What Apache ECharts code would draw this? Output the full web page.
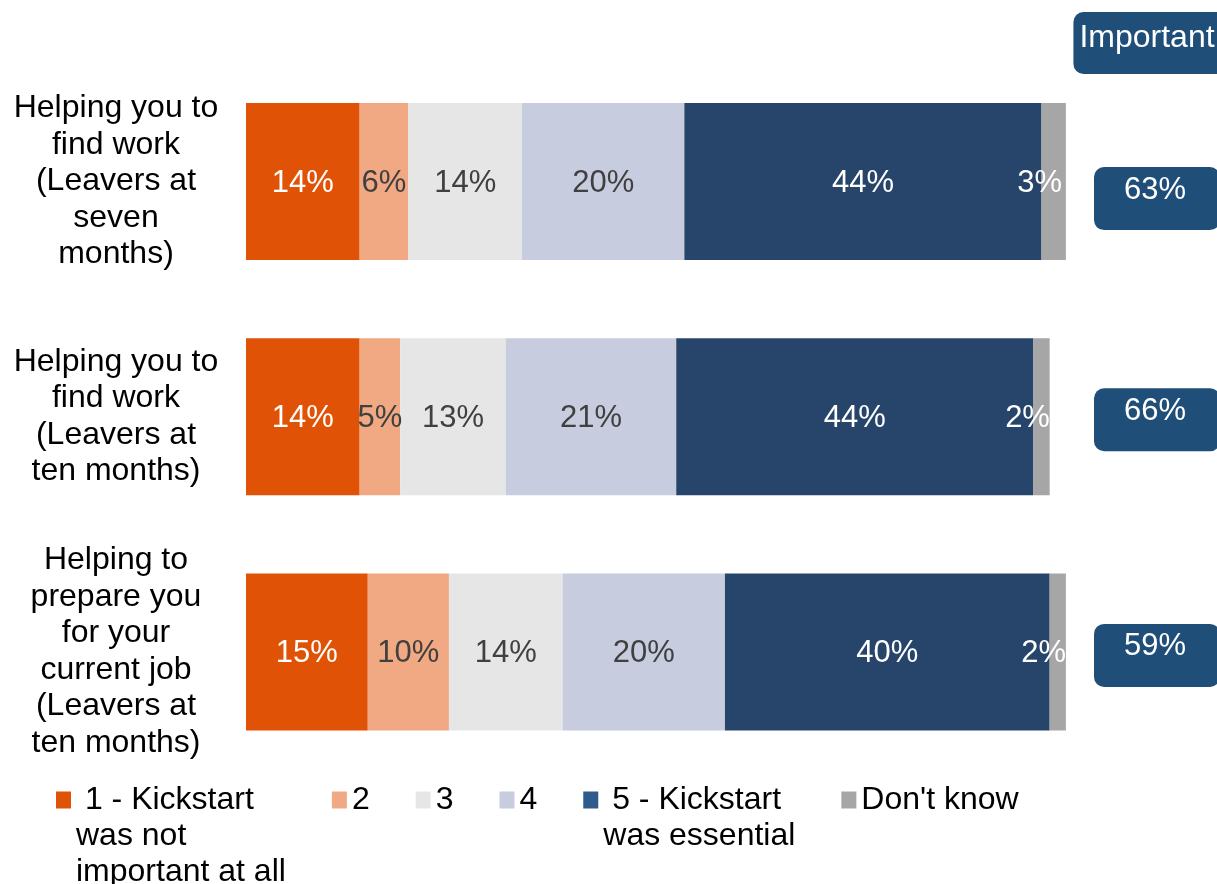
<!DOCTYPE html>
<html>
<head>
<meta charset="utf-8">
<script src="https://cdn.jsdelivr.net/npm/echarts@6/dist/echarts.min.js"></script>
<style>
  html, body { margin: 0; padding: 0; background: #ffffff; }
  #chart { width: 1217px; height: 884px; }
</style>
</head>
<body>
<div id="chart"></div>
<script>
// Ways Kickstart helped, rated 1-5 (share of respondents, %)
const categories = [
  'Helping you to\nfind work\n(Leavers at\nseven\nmonths)',
  'Helping you to\nfind work\n(Leavers at\nten months)',
  'Helping to\nprepare you\nfor your\ncurrent job\n(Leavers at\nten months)'
];
const score1 = [14, 14, 15];
const score2 = [6, 5, 10];
const score3 = [14, 13, 14];
const score4 = [20, 21, 20];
const score5 = [44, 44, 40];
const dontKnow = [3, 2, 2];
// Combined "important" share (4 + 5) shown in the right-hand boxes
const importantShare = [63, 66, 59];
const importantHeader = 'Important';

const seriesNames = [
  ' 1 - Kickstart\nwas not\nimportant at all',
  '2', '3', '4',
  ' 5 - Kickstart\nwas essential',
  "Don't know"
];
const seriesValues = [score1, score2, score3, score4, score5, dontKnow];
const seriesColors = ['#E05206', '#F0A982', '#E6E6E6', '#C8CCDF', '#27446B', '#A6A6A6'];
const labelColors = ['#ffffff', '#404040', '#404040', '#404040', '#ffffff', '#ffffff'];
const legendColors = ['#E05206', '#F0A982', '#E6E6E6', '#C8CCDF', '#2E5A8C', '#A6A6A6'];

const FONT = '"Liberation Sans", Arial, Helvetica, sans-serif';
const BOX = '#1F4E79';
// rounded rectangle outline, 126 x 63 with 10px corners
const BOX_PATH = 'path://M10,0H116A10,10 0 0 1 126,10V53A10,10 0 0 1 116,63H10A10,10 0 0 1 0,53V10A10,10 0 0 1 10,0Z';

const barSeries = seriesNames.map((name, i) => ({
  name: name,
  type: 'bar',
  stack: 'total',
  xAxisIndex: 0,
  yAxisIndex: 0,
  barWidth: 157,
  data: seriesValues[i],
  itemStyle: { color: seriesColors[i] },
  label: {
    show: true,
    position: 'inside',
    offset: i === 5 ? [-14, 2] : [0, 2],
    formatter: '{c}%',
    color: labelColors[i],
    fontFamily: FONT,
    fontSize: 31
  },
  emphasis: { disabled: true }
}));

// right-hand rounded boxes with the combined share
const boxNudgeY = [17, 3, 3.5];
const importantSeries = {
  type: 'scatter',
  xAxisIndex: 1,
  yAxisIndex: 1,
  symbol: BOX_PATH,
  symbolSize: [126, 63],
  itemStyle: { color: BOX, opacity: 1 },
  data: importantShare.map((v, i) => ({
    value: [importantHeader, i, v],
    symbolOffset: [5, boxNudgeY[i]]
  })),
  label: {
    show: true,
    position: 'inside',
    offset: [-2, -8.5],
    formatter: p => p.value[2] + '%',
    color: '#ffffff',
    fontFamily: FONT,
    fontSize: 31
  },
  emphasis: { disabled: true },
  silent: true
};

const chart = echarts.init(document.getElementById('chart'), null, { renderer: 'canvas' });
chart.setOption({
  animation: false,
  backgroundColor: '#ffffff',
  textStyle: { fontFamily: FONT },
  grid: [
    { left: 246, right: 143, top: 64, bottom: 114.5, outerBoundsMode: 'none' },
    { left: 1079, width: 146, top: 64, bottom: 114.5, outerBoundsMode: 'none' }
  ],
  xAxis: [
    { type: 'value', gridIndex: 0, min: 0, max: 102, show: false },
    {
      type: 'category', gridIndex: 1, position: 'top',
      data: [importantHeader],
      axisLine: { show: false }, axisTick: { show: false }, splitLine: { show: false },
      axisLabel: {
        margin: -10,
        color: '#ffffff',
        fontFamily: FONT,
        fontSize: 32,
        lineHeight: 36,
        backgroundColor: BOX,
        borderRadius: 10,
        padding: [8, 16, 18, 6]
      }
    }
  ],
  yAxis: [
    {
      type: 'category', gridIndex: 0, inverse: true,
      data: categories,
      axisLine: { show: false }, axisTick: { show: false },
      axisLabel: {
        margin: 130,
        align: 'center',
        color: '#000000',
        fontFamily: FONT,
        fontSize: 32,
        lineHeight: 36.5,
        padding: [5, 0, 0, 0]
      }
    },
    {
      type: 'category', gridIndex: 1, inverse: true,
      data: [0, 1, 2],
      show: false
    }
  ],
  legend: {
    left: 56,
    top: 707.5,
    padding: 0,
    orient: 'horizontal',
    itemGap: 46,
    itemWidth: 15,
    itemHeight: 17,
    icon: 'rect',
    selectedMode: false,
    data: seriesNames.map((n, i) => ({
      name: n,
      itemStyle: { color: legendColors[i] }
    })),
    // pad wrapped entries with blank lines above so the first line sits level with the swatch
    formatter: name => {
      const extra = name.split('\n').length - 1;
      return '\n'.repeat(extra) + name;
    },
    textStyle: {
      color: '#000000',
      fontFamily: FONT,
      fontSize: 32,
      lineHeight: 36,
      padding: [5, 0, 0, 0]
    }
  },
  series: barSeries.concat([importantSeries])
});
</script>
</body>
</html>
